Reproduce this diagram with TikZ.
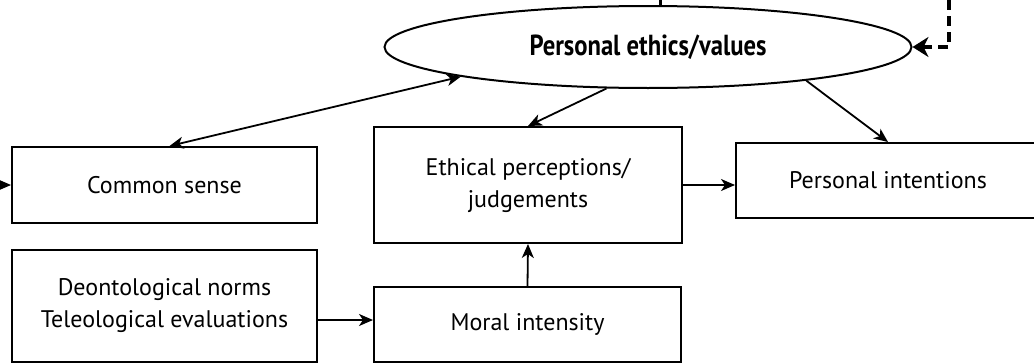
\documentclass[tikz,border=0pt]{standalone}
\usepackage{fontspec}
\setmainfont{PT Sans}
\newfontfamily\titlefont{PT Sans}[FakeStretch=0.85]
\usetikzlibrary{shapes.geometric,arrows.meta}
\begin{document}
\begin{tikzpicture}[x=1pt,y=-1pt,
  box/.style={draw, line width=2pt, inner sep=0pt, align=center,
    font=\fontsize{24}{32}\selectfont},
  tip/.style={Stealth[length=14pt,width=12pt,inset=4pt]},
  conn/.style={line width=1.8pt, -{Stealth[length=14pt,width=12pt,inset=4pt]}},
  biconn/.style={line width=1.8pt, {Stealth[length=14pt,width=12pt,inset=4pt]}-{Stealth[length=14pt,width=12pt,inset=4pt]}},
  feedback/.style={line width=4pt, dash pattern=on 10pt off 6pt, -{Stealth[length=16pt,width=20pt,inset=5pt]}}]
\useasboundingbox (0,0) rectangle (1034,364);
\clip (0,0) rectangle (1034,364);

\node[box, minimum width=305pt, minimum height=76pt] (cs) at (164.5,185) {Common sense};
\node[box, minimum width=305pt, minimum height=112pt] (deont) at (164.5,306) {Deontological norms\\Teleological evaluations};
\node[box, minimum width=308pt, minimum height=116pt] (eth) at (528,185) {Ethical perceptions/\\judgements};
\node[box, minimum width=307pt, minimum height=75pt] (mor) at (527.5,324.5) {Moral intensity};
\node[box, minimum width=304pt, minimum height=75pt] (pi) at (888,180.5) {Personal intentions};
\node[ellipse, draw, line width=2pt, minimum width=527pt, minimum height=82pt, inner sep=0pt,
  font=\fontsize{29}{32}\selectfont] (pe) at (648,47) {\titlefont\bfseries Personal ethics/values};

\coordinate (lin) at (0,185);
\coordinate (dtop) at (949,0);
\coordinate (stub) at (660,0);
\path ([yshift=4.5pt]mor.west) coordinate (mw);

\draw[conn] (lin) -- (cs.west);
\draw[conn] (deont.east |- mw) -- (mw);
\draw[conn] (mor.north) -- (eth.south);
\draw[conn] (eth.east) -- (pi.west |- eth.east);
\draw[conn] (pe.225) -- (eth.north);
\draw[conn] (pe.-12) -- (pi.north);
\draw[biconn] ([xshift=5pt]cs.north) -- (pe.189);
\draw[feedback] (dtop) |- (pe.east);
\draw[line width=3pt] (stub) -- (stub |- pe.north);
\end{tikzpicture}
\end{document}
